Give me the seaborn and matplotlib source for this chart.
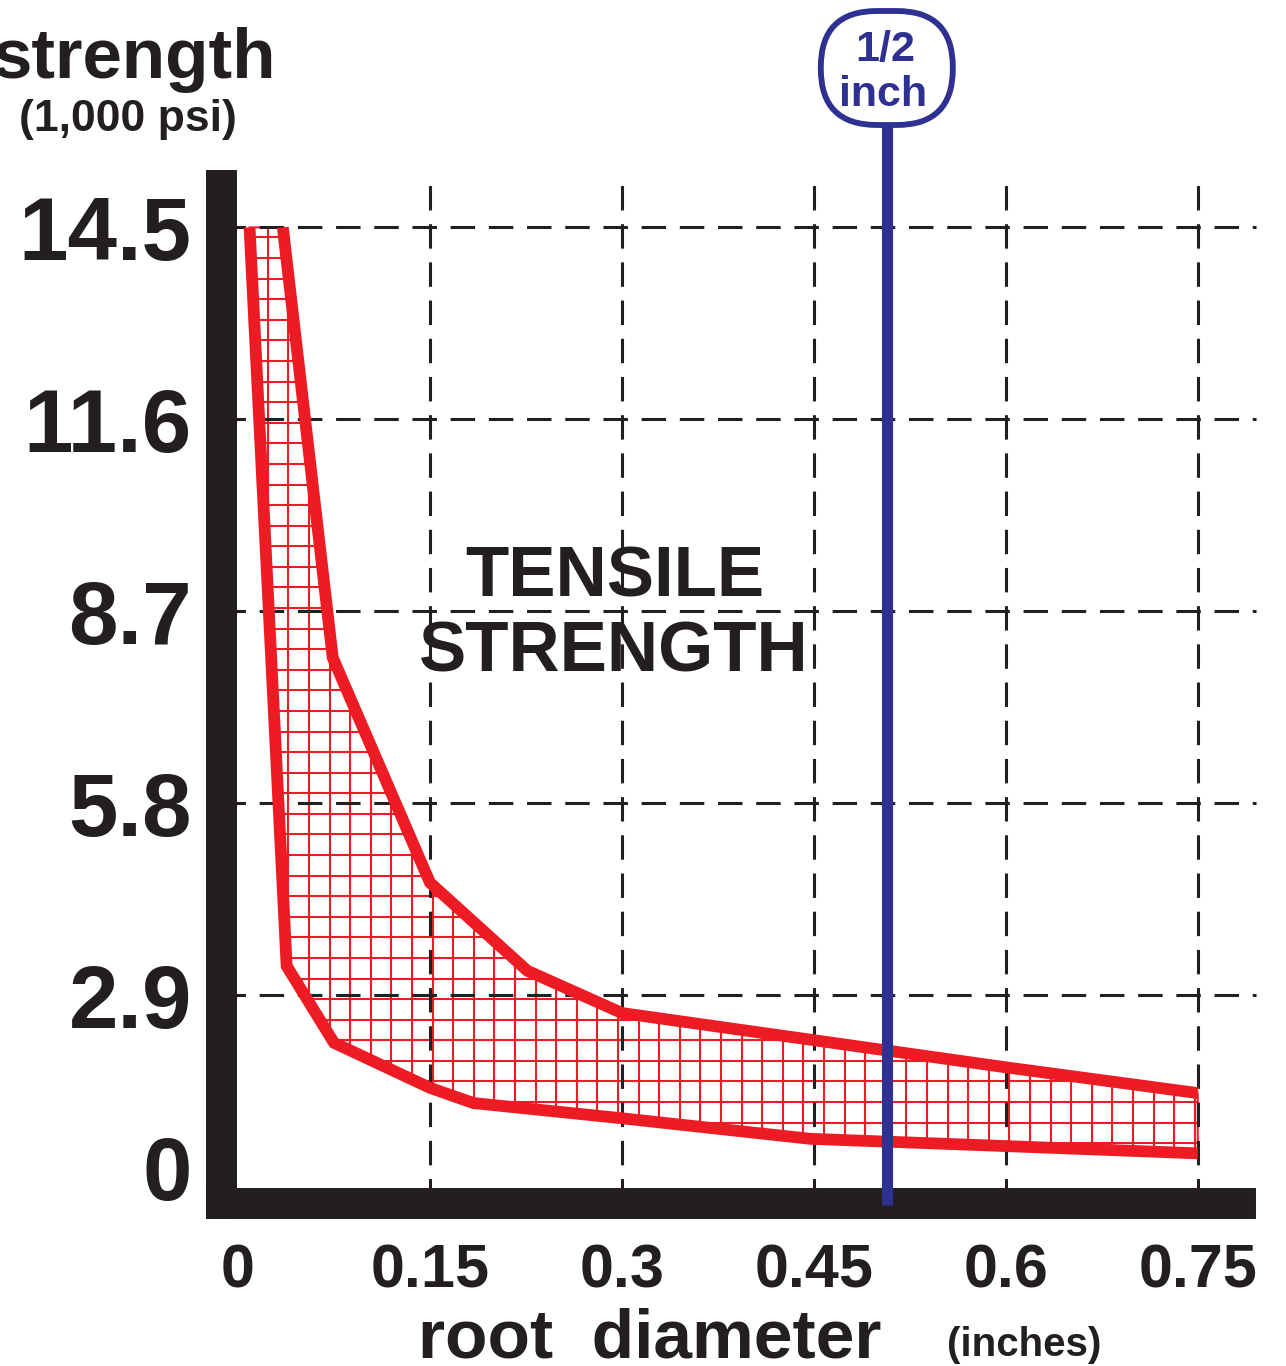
import matplotlib
matplotlib.use("Agg")
import matplotlib.pyplot as plt
import numpy as np
import pandas as pd
import seaborn as sns
from matplotlib.collections import LineCollection
from matplotlib.patches import FancyBboxPatch
from matplotlib.transforms import ScaledTranslation

# upper and lower edge of the tensile strength band (root diameter in inches, 1,000 psi)
upper_x = [0.035, 0.074, 0.15, 0.226, 0.30, 0.45, 0.60, 0.75]
upper_y = [14.5, 8.0, 4.6, 3.27, 2.63, 2.22, 1.81, 1.42]
lower_x = [0.009, 0.038, 0.075, 0.15, 0.184, 0.30, 0.447, 0.60, 0.75]
lower_y = [14.5, 3.34, 2.18, 1.50, 1.27, 1.04, 0.73, 0.62, 0.51]

x_ticks = [0, 0.15, 0.3, 0.45, 0.6, 0.75]
x_labels = ["0", "0.15", "0.3", "0.45", "0.6", "0.75"]
y_ticks = [0, 2.9, 5.8, 8.7, 11.6, 14.5]
y_labels = ["0", "2.9", "5.8", "8.7", "11.6", "14.5"]
half_inch = 0.507

RED = "#ED1C24"
BLUE = "#2E3192"
INK = "#231F20"

sns.set_theme(style="white")
plt.rcParams["font.family"] = ["Liberation Sans", "DejaVu Sans"]
plt.rcParams["font.weight"] = "bold"

W, H = 1286, 1366
fig = plt.figure(figsize=(W / 100, H / 100), dpi=100)


def fx(px):
    return px / W


def fy(py):
    return 1 - py / H


ax = fig.add_axes([fx(221), fy(1203), fx(1240) - fx(221), fy(185) - fy(1203)])
ax.set_xlim(-0.0133, 0.783)
ax.set_ylim(-0.24, 15.14)

# dashed grid
dash = (0, (8, 4.5))
for t in x_ticks[1:]:
    ax.axvline(t, ymax=1.013, clip_on=False, color=INK, lw=2.2, ls=dash, zorder=2)
for t in y_ticks[1:]:
    ax.axhline(t, xmax=1.016, clip_on=False, color=INK, lw=2.2, ls=dash, zorder=2)

# band outline + grid hatch clipped to it
poly_x = upper_x + lower_x[::-1]
poly_y = upper_y + lower_y[::-1]
[band] = ax.fill(poly_x, poly_y, facecolor="none", edgecolor=RED, lw=1.4, zorder=1.5)

hx = np.arange(0.0071, 0.76, 0.0161)
hy = np.arange(0.041, 14.6, 0.311)
segs = [[(x, -1), (x, 16)] for x in hx] + [[(-0.1, y), (0.9, y)] for y in hy]
hatch = LineCollection(segs, colors=RED, linewidths=1.5, zorder=1.5)
ax.add_collection(hatch)
hatch.set_clip_path(band)

curves = pd.concat([
    pd.DataFrame({"x": upper_x, "y": upper_y, "edge": "upper"}),
    pd.DataFrame({"x": lower_x, "y": lower_y, "edge": "lower"}),
])
sns.lineplot(data=curves, x="x", y="y", units="edge", estimator=None, sort=False,
             color=RED, lw=8.5, solid_capstyle="butt", solid_joinstyle="miter",
             zorder=4, ax=ax, legend=False)

# 1/2 inch marker
ax.axvline(half_inch, ymin=-0.002, ymax=(1203 - 125) / 1018, color=BLUE, lw=8,
           clip_on=False, zorder=6, solid_capstyle="butt")

# axes styling
for side in ["top", "right"]:
    ax.spines[side].set_visible(False)
for side in ["left", "bottom"]:
    ax.spines[side].set_linewidth(22.3)
    ax.spines[side].set_color(INK)

ax.set_xticks(x_ticks, x_labels)
ax.set_yticks(y_ticks, y_labels)
ax.tick_params(axis="x", length=0, pad=29, labelsize=44, labelcolor=INK)
ax.tick_params(axis="y", length=0, pad=21, labelsize=64, labelcolor=INK)
ax.set_xlabel("")
ax.set_ylabel("")
zero_lab = ax.yaxis.get_major_ticks()[0].label1
zero_lab.set_transform(zero_lab.get_transform() + ScaledTranslation(0, 0.2, fig.dpi_scale_trans))

# labels
fig.text(fx(276), fy(78), "strength", ha="right", va="baseline", fontsize=51, color=INK)
fig.text(fx(128), fy(120), "(1,000 psi)", ha="center", va="center", fontsize=32, color=INK)
fig.text(fx(650), fy(1357), "root  diameter", ha="center", va="baseline", fontsize=50, color=INK)
fig.text(fx(1024), fy(1356), "(inches)", ha="center", va="baseline", fontsize=29, color=INK)
fig.text(fx(615), fy(596), "TENSILE", ha="center", va="baseline", fontsize=51, color=INK)
fig.text(fx(614), fy(672), "STRENGTH", ha="center", va="baseline", fontsize=51, color=INK)

# rounded label box on top of the marker
cx = ax.transData.transform((half_inch, 0))[0]
cy = H - 68
box = FancyBboxPatch((cx - 66, cy - 57), 132, 114,
                     boxstyle="round,pad=0,rounding_size=56",
                     transform=None, facecolor="white", edgecolor=BLUE, lw=4.2, zorder=7)
fig.add_artist(box)
fig.text(fx(cx - 2), fy(61), "1/2", ha="center", va="baseline", fontsize=31, color=BLUE, zorder=8)
fig.text(fx(cx - 4), fy(106), "inch", ha="center", va="baseline", fontsize=31, color=BLUE, zorder=8)

fig.savefig("out.png", dpi=100)
